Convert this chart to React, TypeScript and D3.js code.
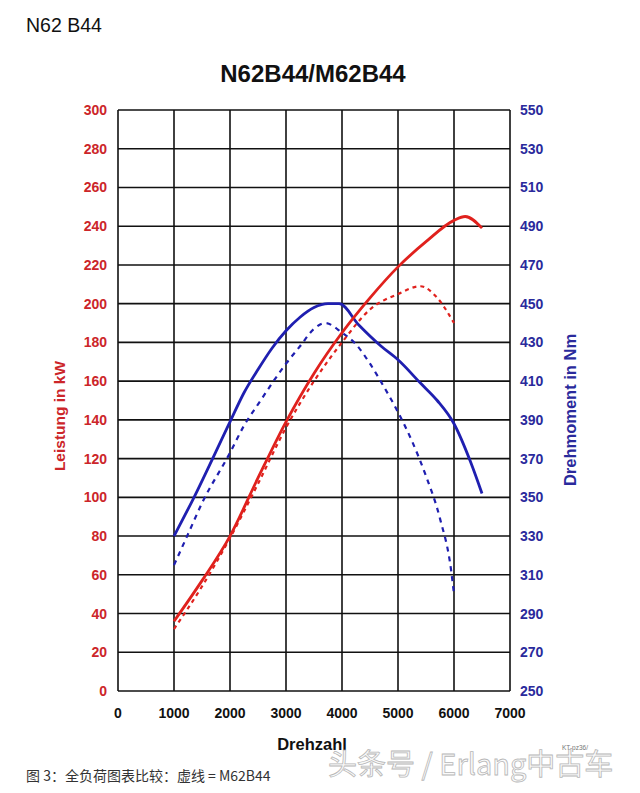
import React from "react";
import * as d3 from "d3";

// Drehzahl (rpm) vs power / torque
const rpmTicks = [0, 1000, 2000, 3000, 4000, 5000, 6000, 7000];
const powerTicks = [0, 20, 40, 60, 80, 100, 120, 140, 160, 180, 200, 220, 240, 260, 280, 300];
const torqueTicks = [250, 270, 290, 310, 330, 350, 370, 390, 410, 430, 450, 470, 490, 510, 530, 550];

// N62B44 power (solid red)
const powerN62Rpm = [1000, 1500, 2000, 2500, 3000, 3500, 4000, 4500, 5000, 5500, 6000, 6200, 6500];
const powerN62 = [36, 57, 80, 110, 139, 164, 185, 203, 219, 232, 243, 245, 239];

// M62B44 power (dashed red)
const powerM62Rpm = [1000, 1500, 2000, 2500, 3000, 3500, 4000, 4500, 5000, 5400, 5700, 6000];
const powerM62 = [32, 54, 79, 107, 136, 160, 180, 197, 205, 209, 203, 190];

// N62B44 torque (solid blue)
const torqueN62Rpm = [1000, 1340, 2000, 2250, 2500, 2750, 3000, 3250, 3500, 3750, 3950, 4300, 4700, 5000, 5400, 5700, 6000, 6300, 6500];
const torqueN62 = [330, 349, 389, 404, 416, 427, 436, 443, 448, 450, 450, 439, 428, 421, 409, 400, 388, 368, 352];

// M62B44 torque (dashed blue)
const torqueM62Rpm = [1000, 1250, 1500, 2000, 2250, 2500, 3000, 3250, 3500, 3700, 4000, 4250, 4500, 4750, 5000, 5250, 5500, 5750, 5950, 6000];
const torqueM62 = [315, 331, 347, 373, 387, 398, 419, 428, 437, 440, 435, 429, 419, 407, 394, 379, 361, 339, 312, 300];

const RED = "#e0211d";
const RED_TEXT = "#cc2529";
const BLUE = "#1f1fb0";
const BLUE_TEXT = "#2a2a9c";
const FONT = "'Liberation Sans', Arial, sans-serif";

const W = 640;
const H = 793;
const left = 118;
const right = 510;
const top = 110;
const bottom = 691;

const x = d3.scaleLinear().domain([0, 7000]).range([left, right]);
const yPow = d3.scaleLinear().domain([0, 300]).range([bottom, top]);
const yTq = d3.scaleLinear().domain([250, 550]).range([bottom, top]);

function makeLine(scale: d3.ScaleLinear<number, number>) {
  return d3
    .line<[number, number]>()
    .x((d) => x(d[0]))
    .y((d) => scale(d[1]))
    .curve(d3.curveMonotoneX);
}

const zip = (a: number[], b: number[]) => a.map((v, i) => [v, b[i]] as [number, number]);

export default function App() {
  const powLine = makeLine(yPow);
  const tqLine = makeLine(yTq);

  return (
    <svg
      width={W}
      height={H}
      style={{ position: "absolute", left: 0, top: 0, background: "#fff" }}
      fontFamily={FONT}
    >
      <rect width={W} height={H} fill="#fff" />
      <text x={26} y={32} fontSize={19.5} fill="#111">N62 B44</text>
      <text x={313} y={82} fontSize={24} fontWeight="bold" textAnchor="middle" fill="#111">
        N62B44/M62B44
      </text>

      {/* grid */}
      <g stroke="#111" strokeWidth={1.6}>
        {powerTicks.map((t) => (
          <line key={"h" + t} x1={left} x2={right} y1={yPow(t)} y2={yPow(t)} />
        ))}
        {rpmTicks.map((t) => (
          <line key={"v" + t} x1={x(t)} x2={x(t)} y1={top} y2={bottom} />
        ))}
      </g>

      {/* tick labels */}
      <g fontSize={14} fontWeight="bold">
        {powerTicks.map((t) => (
          <text key={"l" + t} x={107} y={yPow(t) + 5} textAnchor="end" fill={RED_TEXT}>
            {t}
          </text>
        ))}
        {torqueTicks.map((t) => (
          <text key={"r" + t} x={520} y={yTq(t) + 5} fill={BLUE_TEXT}>
            {t}
          </text>
        ))}
        {rpmTicks.map((t) => (
          <text key={"x" + t} x={x(t)} y={718} textAnchor="middle" fill="#111">
            {t}
          </text>
        ))}
      </g>

      <text x={312} y={750} fontSize={16.5} fontWeight="bold" textAnchor="middle" fill="#111">
        Drehzahl
      </text>
      <text
        transform="translate(65,416) rotate(-90)"
        fontSize={15.5}
        fontWeight="bold"
        textAnchor="middle"
        fill={RED_TEXT}
      >
        Leistung in kW
      </text>
      <text
        transform="translate(576,410) rotate(-90)"
        fontSize={16.5}
        fontWeight="bold"
        textAnchor="middle"
        fill={BLUE_TEXT}
      >
        Drehmoment in Nm
      </text>

      {/* curves */}
      <g fill="none" strokeLinejoin="round">
        <path d={tqLine(zip(torqueM62Rpm, torqueM62)) || ""} stroke={BLUE} strokeWidth={2.2} strokeDasharray="5,5" />
        <path d={powLine(zip(powerM62Rpm, powerM62)) || ""} stroke={RED} strokeWidth={2.2} strokeDasharray="4,4" />
        <path d={tqLine(zip(torqueN62Rpm, torqueN62)) || ""} stroke={BLUE} strokeWidth={2.8} />
        <path d={powLine(zip(powerN62Rpm, powerN62)) || ""} stroke={RED} strokeWidth={2.8} />
      </g>

      <text x={26} y={781} fontSize={14} fill="#333" fontFamily="'Noto Sans CJK SC', sans-serif">
        图 3：全负荷图表比较：虚线 = M62B44
      </text>

      {/* watermark */}
      <text
        x={328}
        y={775}
        fontSize={29}
        fill="#fafafa"
        stroke="#b8b8b8"
        strokeWidth={0.8}
        fontFamily="'Noto Sans CJK SC', sans-serif"
      >
        头条号 / Erlang中古车
      </text>
      <text x={562} y={750} fontSize={6.5} fill="#777">KT-pz36/</text>
    </svg>
  );
}
